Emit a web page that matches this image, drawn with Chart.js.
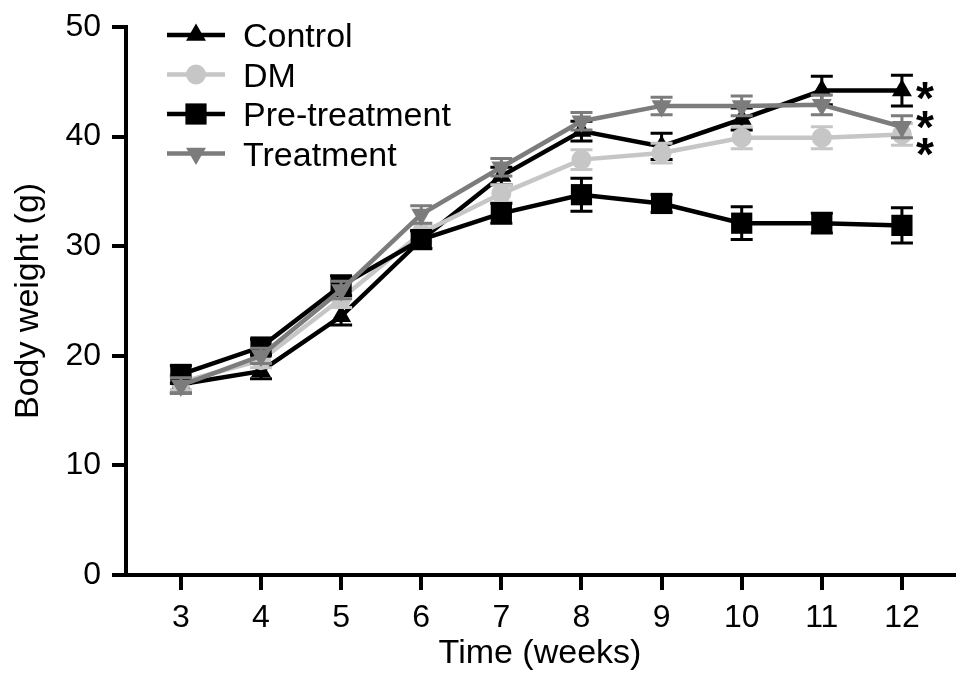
<!DOCTYPE html>
<html><head><meta charset="utf-8">
<script src="https://cdn.jsdelivr.net/npm/chart.js@4"></script>
<style>html,body{margin:0;padding:0;background:#fff;} #wrap{width:969px;height:688px;position:relative;}</style>
</head><body><div id="wrap"><canvas id="c"></canvas></div>
<script>
// ---- data ----
const weeks = [3, 4, 5, 6, 7, 8, 9, 10, 11, 12];
const yTickValues = [0, 10, 20, 30, 40, 50];
const seriesNames = ['Control', 'DM', 'Pre-treatment', 'Treatment'];
const control      = [17.4, 18.6, 23.6, 30.6, 36.4, 40.5, 39.1, 41.6, 44.2, 44.2];
const controlErr   = [0.8, 0.7, 0.8, 0.8, 0.8, 0.9, 1.2, 1.0, 1.3, 1.4];
const dm           = [17.6, 19.6, 25.2, 31.2, 34.8, 37.9, 38.5, 39.9, 39.9, 40.2];
const dmErr        = [0.7, 0.7, 0.8, 0.8, 0.8, 0.9, 0.9, 1.0, 1.0, 1.0];
const pre          = [18.3, 20.8, 26.4, 30.6, 33.0, 34.7, 33.9, 32.1, 32.1, 31.9];
const preErr       = [0.8, 0.7, 0.9, 0.8, 0.9, 1.5, 0.8, 1.5, 0.9, 1.6];
const treatment    = [17.3, 20.0, 26.0, 32.9, 37.2, 41.4, 42.8, 42.8, 42.9, 40.9];
const treatmentErr = [0.7, 0.7, 0.8, 0.8, 0.8, 0.8, 0.8, 0.9, 0.9, 1.0];
const sigLabels = ['*', '*', '*'];
const sigLevels = [44.5, 41.9, 39.4];

const FONT = "'Liberation Sans', Arial, Helvetica, sans-serif";
Chart.defaults.font.family = FONT;
Chart.defaults.color = '#000';

const toPts = arr => weeks.map((w, i) => ({x: w, y: arr[i]}));

const styles = [
  {color: '#000000', pointStyle: 'triangle', rotation: 0, radius: 11.5, order: 3},
  {color: '#c6c6c6', pointStyle: 'circle', rotation: 0, radius: 10, order: 2},
  {color: '#000000', pointStyle: 'rect', rotation: 0, radius: 15, order: 1},
  {color: '#7c7c7c', pointStyle: 'triangle', rotation: 180, radius: 11.5, order: 0}
];
const values = [control, dm, pre, treatment];
const errors = [controlErr, dmErr, preErr, treatmentErr];

const datasets = seriesNames.map((name, k) => ({
  label: name,
  data: toPts(values[k]),
  errors: errors[k],
  borderColor: styles[k].color,
  backgroundColor: styles[k].color,
  borderWidth: 4.5,
  pointStyle: styles[k].pointStyle,
  pointRotation: styles[k].rotation,
  pointRadius: styles[k].radius,
  pointHoverRadius: styles[k].radius,
  pointBorderWidth: 0,
  tension: 0,
  order: styles[k].order
}));

const errorBars = {
  id: 'errorBars',
  beforeDatasetDraw(chart, args) {
    const ds = chart.data.datasets[args.index];
    if (!ds.errors) return;
    const {ctx, scales: {x, y}} = chart;
    ctx.save();
    ctx.strokeStyle = ds.borderColor;
    ctx.lineWidth = 3;
    ds.data.forEach((p, i) => {
      const e = ds.errors[i];
      const px = x.getPixelForValue(p.x);
      const y1 = y.getPixelForValue(p.y - e);
      const y2 = y.getPixelForValue(p.y + e);
      ctx.beginPath();
      ctx.moveTo(px, y1); ctx.lineTo(px, y2);
      ctx.moveTo(px - 11, y1); ctx.lineTo(px + 11, y1);
      ctx.moveTo(px - 11, y2); ctx.lineTo(px + 11, y2);
      ctx.stroke();
    });
    ctx.restore();
  }
};

const customLegend = {
  id: 'customLegend',
  afterDraw(chart) {
    const ctx = chart.ctx;
    const x0 = 167, x1 = 225, xm = 196, xt = 243, yTop = 35, gap = 39.5;
    ctx.save();
    chart.data.datasets.forEach((ds, k) => {
      const yy = yTop + k * gap;
      ctx.strokeStyle = ds.borderColor;
      ctx.fillStyle = ds.backgroundColor;
      ctx.lineWidth = 4.5;
      ctx.beginPath(); ctx.moveTo(x0, yy); ctx.lineTo(x1, yy); ctx.stroke();
      Chart.helpers.drawPoint(ctx, {pointStyle: ds.pointStyle, rotation: ds.pointRotation,
        radius: ds.pointRadius, borderWidth: 0}, xm, yy);
      ctx.fillStyle = '#000';
      ctx.font = '34px ' + FONT;
      ctx.textBaseline = 'alphabetic';
      ctx.textAlign = 'left';
      ctx.fillText(ds.label, xt, yy + 12);
    });
    ctx.restore();
  }
};

const sigMarks = {
  id: 'sigMarks',
  afterDraw(chart) {
    const {ctx, scales: {x, y}} = chart;
    ctx.save();
    ctx.fillStyle = '#000';
    ctx.font = 'bold 46px ' + FONT;
    ctx.textAlign = 'center';
    ctx.textBaseline = 'alphabetic';
    const px = x.getPixelForValue(weeks[weeks.length - 1]) + 23;
    sigLabels.forEach((s, i) => {
      ctx.fillText(s, px, y.getPixelForValue(sigLevels[i]) + 27);
    });
    ctx.restore();
  }
};

new Chart(document.getElementById('c'), {
  type: 'line',
  data: {datasets},
  options: {
    responsive: true,
    maintainAspectRatio: false,
    animation: false,
    events: [],
    layout: {padding: {top: 27, right: 12, left: 0, bottom: 0}},
    plugins: {legend: {display: false}, tooltip: {enabled: false}},
    scales: {
      x: {
        type: 'linear',
        min: 2.315, max: 12.65,
        afterBuildTicks(scale) { scale.ticks = weeks.map(v => ({value: v})); },
        afterFit(scale) { scale.height = 113; },
        grid: {drawOnChartArea: false, drawTicks: true, tickLength: 15, lineWidth: 4, color: '#000'},
        border: {display: true, width: 4, color: '#000'},
        ticks: {font: {size: 32}, padding: 9, color: '#000', maxRotation: 0, autoSkip: false},
        title: {display: true, text: 'Time (weeks)', font: {size: 34}, padding: {top: 0, bottom: 14}, color: '#000'}
      },
      y: {
        type: 'linear',
        min: 0, max: 50,
        afterBuildTicks(scale) { scale.ticks = yTickValues.map(v => ({value: v})); },
        afterFit(scale) { scale.width = 126; },
        grid: {drawOnChartArea: false, drawTicks: true, tickLength: 14, lineWidth: 4, color: '#000'},
        border: {display: true, width: 4, color: '#000'},
        ticks: {font: {size: 32, lineHeight: 1}, padding: 11, color: '#000'},
        title: {display: true, text: 'Body weight (g)', font: {size: 34}, padding: {top: 8, bottom: 0}, color: '#000'}
      }
    }
  },
  plugins: [errorBars, customLegend, sigMarks]
});
</script>
</body></html>
